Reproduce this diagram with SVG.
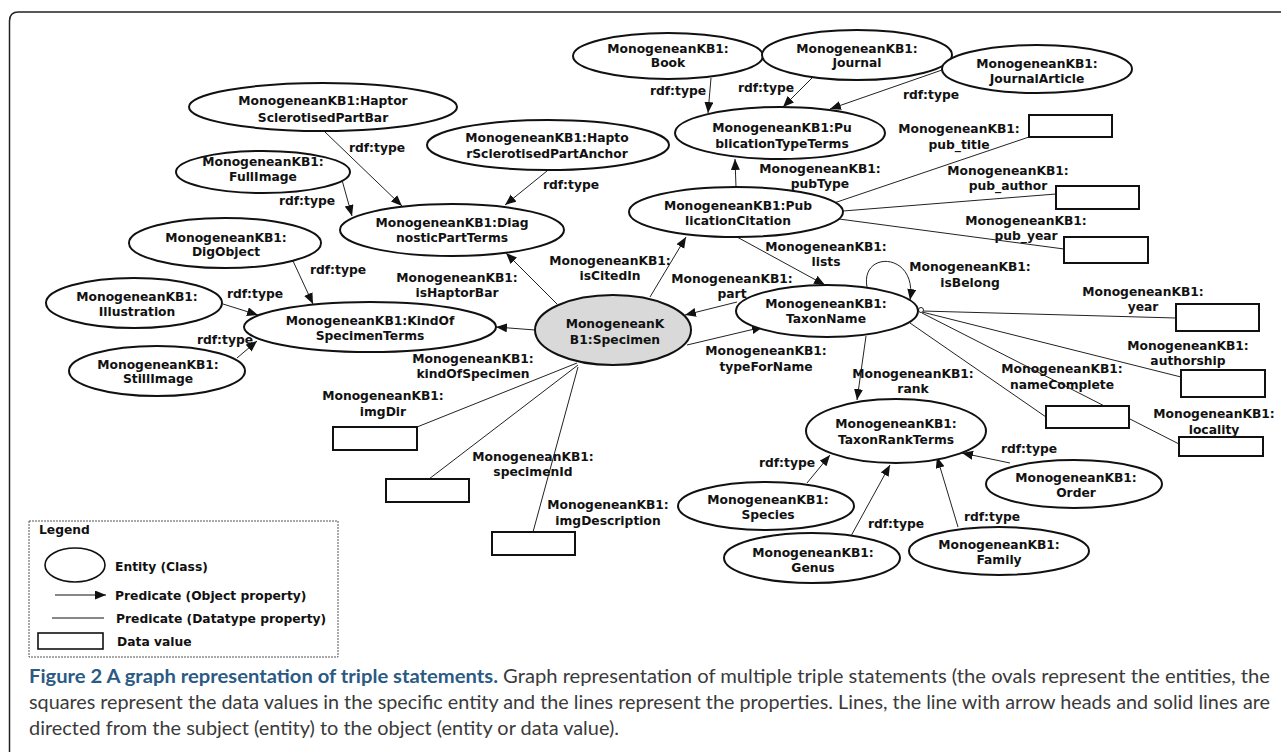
<svg xmlns="http://www.w3.org/2000/svg" width="1281" height="752" viewBox="0 0 1281 752">
<defs>
<marker id="ah" markerUnits="userSpaceOnUse" markerWidth="12" markerHeight="10" refX="11" refY="4.5" orient="auto">
<path d="M0,0 L11,4.5 L0,9 z" fill="#111"/>
</marker>
<style>
.ent ellipse{fill:#fff;stroke:#111;stroke-width:2}
.ent text,.lbl text,.lg text{font-family:"DejaVu Sans",Verdana,sans-serif;font-weight:bold;font-size:12.3px;fill:#111}
.ent text,.lbl text{text-anchor:middle}
.obj{stroke:#222;stroke-width:1;fill:none;marker-end:url(#ah)}
.dt{stroke:#222;stroke-width:1;fill:none}
.box{fill:#fff;stroke:#111;stroke-width:2}
.cap{font-family:Lato,"Open Sans",sans-serif;font-size:19.5px;fill:#3a3a3a}
</style>
</defs>
<rect width="1281" height="752" fill="#fff"/>
<path d="M9.5,752 L9.5,21 Q9.5,12 18.5,12 L1281,12" fill="none" stroke="#222" stroke-width="1.5"/>

<g id="connectors">
<line class="obj" x1="325" y1="132" x2="402" y2="206"/>
<line class="obj" x1="342" y1="180" x2="352" y2="216"/>
<line class="obj" x1="547" y1="171" x2="505" y2="205"/>
<line class="obj" x1="293" y1="261" x2="313" y2="304"/>
<line class="obj" x1="223" y1="304" x2="258" y2="315"/>
<line class="obj" x1="237" y1="358" x2="257" y2="341"/>
<line class="obj" x1="711" y1="78" x2="708" y2="113"/>
<line class="obj" x1="813" y1="77" x2="783" y2="107"/>
<line class="obj" x1="942" y1="70" x2="830" y2="109"/>
<line class="obj" x1="736" y1="187" x2="735" y2="159"/>
<line class="obj" x1="650" y1="297" x2="686" y2="237"/>
<line class="obj" x1="557" y1="304" x2="506" y2="253"/>
<line class="obj" x1="535" y1="330" x2="496" y2="327"/>
<line class="obj" x1="737" y1="302" x2="685" y2="315"/>
<line class="obj" x1="687" y1="345" x2="763" y2="327"/>
<line class="obj" x1="737" y1="237" x2="825" y2="285"/>
<path class="obj" d="M867,287 C860,250 918,252 910,300"/>
<line class="obj" x1="866" y1="336" x2="857" y2="400"/>
<line class="obj" x1="807" y1="483" x2="830" y2="455"/>
<line class="obj" x1="851" y1="536" x2="890" y2="465"/>
<line class="obj" x1="958" y1="527" x2="937" y2="457"/>
<line class="obj" x1="1010" y1="463" x2="962" y2="453"/>
<line class="dt" x1="834" y1="203" x2="1029" y2="137"/>
<line class="dt" x1="843" y1="211" x2="1056" y2="194"/>
<line class="dt" x1="839" y1="219" x2="1064" y2="249"/>
<line class="dt" x1="922" y1="311" x2="1176" y2="318"/>
<line class="dt" x1="922" y1="312" x2="1181" y2="377"/>
<line class="dt" x1="922" y1="313" x2="1179" y2="444"/>
<line class="dt" x1="910" y1="323" x2="1046" y2="417"/>
<line class="dt" x1="577" y1="363" x2="417" y2="427"/>
<line class="dt" x1="578" y1="365" x2="429" y2="479"/>
<line class="dt" x1="578" y1="367" x2="533" y2="532"/>
<circle cx="921" cy="310" r="2.5" fill="#fff" stroke="#222" stroke-width="1"/>
</g>

<g class="lbl" id="edge-labels">
<text x="377" y="151.5">rdf:type</text>
<text x="307" y="204.5">rdf:type</text>
<text x="571" y="188.5">rdf:type</text>
<text x="338" y="273.5">rdf:type</text>
<text x="255" y="297.5">rdf:type</text>
<text x="225" y="343.5">rdf:type</text>
<text x="678" y="94.5">rdf:type</text>
<text x="766" y="91.5">rdf:type</text>
<text x="931" y="98.5">rdf:type</text>
<text x="1029" y="452.5">rdf:type</text>
<text x="787" y="466.5">rdf:type</text>
<text x="896" y="527.5">rdf:type</text>
<text x="992" y="520.5">rdf:type</text>
<text x="820" y="172.5">MonogeneanKB1:<tspan x="820" y="187.5">pubType</tspan></text>
<text x="959" y="132.5">MonogeneanKB1:<tspan x="959" y="148.5">pub_title</tspan></text>
<text x="1008" y="174.5">MonogeneanKB1:<tspan x="1008" y="189.5">pub_author</tspan></text>
<text x="1026" y="224.5">MonogeneanKB1:<tspan x="1026" y="239.5">pub_year</tspan></text>
<text x="610" y="264.5">MonogeneanKB1:<tspan x="610" y="279.5">isCitedIn</tspan></text>
<text x="457" y="281.5">MonogeneanKB1:<tspan x="457" y="296.5">isHaptorBar</tspan></text>
<text x="826" y="250.5">MonogeneanKB1:<tspan x="826" y="265.5">lists</tspan></text>
<text x="732" y="282.5">MonogeneanKB1:<tspan x="732" y="297.5">part</tspan></text>
<text x="970" y="270.5">MonogeneanKB1:<tspan x="970" y="286.5">isBelong</tspan></text>
<text x="473" y="362.5">MonogeneanKB1:<tspan x="473" y="377.5">kindOfSpecimen</tspan></text>
<text x="766" y="354.5">MonogeneanKB1:<tspan x="766" y="370.5">typeForName</tspan></text>
<text x="383" y="399.5">MonogeneanKB1:<tspan x="383" y="415.5">imgDir</tspan></text>
<text x="533" y="460.5">MonogeneanKB1:<tspan x="533" y="475.5">specimenId</tspan></text>
<text x="608" y="508.5">MonogeneanKB1:<tspan x="608" y="524.5">imgDescription</tspan></text>
<text x="913" y="377.5">MonogeneanKB1:<tspan x="913" y="392.5">rank</tspan></text>
<text x="1143" y="295.5">MonogeneanKB1:<tspan x="1143" y="310.5">year</tspan></text>
<text x="1188" y="349.5">MonogeneanKB1:<tspan x="1188" y="364.5">authorship</tspan></text>
<text x="1062" y="372.5">MonogeneanKB1:<tspan x="1062" y="388.5">nameComplete</tspan></text>
<text x="1214" y="417.5">MonogeneanKB1:<tspan x="1214" y="433.5">locality</tspan></text>
</g>

<g class="ent" id="n-bar"><ellipse cx="323" cy="107" rx="134" ry="24"/><text x="323" y="104.5">MonogeneanKB1:Haptor<tspan x="323" y="121.5">SclerotisedPartBar</tspan></text></g>
<g class="ent" id="n-anchor"><ellipse cx="548" cy="145" rx="121" ry="25"/><text x="547" y="141.5">MonogeneanKB1:Hapto<tspan x="547" y="157.5">rSclerotisedPartAnchor</tspan></text></g>
<g class="ent" id="n-fullimage"><ellipse cx="263" cy="172" rx="87" ry="21"/><text x="263" y="165.5">MonogeneanKB1:<tspan x="263" y="180.5">FullImage</tspan></text></g>
<g class="ent" id="n-diag"><ellipse cx="452" cy="230" rx="112" ry="26"/><text x="452" y="226.5">MonogeneanKB1:Diag<tspan x="452" y="241.5">nosticPartTerms</tspan></text></g>
<g class="ent" id="n-digobject"><ellipse cx="225" cy="243" rx="96" ry="25"/><text x="226" y="241.5">MonogeneanKB1:<tspan x="226" y="255.5">DigObject</tspan></text></g>
<g class="ent" id="n-illustration"><ellipse cx="134" cy="303" rx="88" ry="25"/><text x="137" y="300.5">MonogeneanKB1:<tspan x="137" y="315.5">Illustration</tspan></text></g>
<g class="ent" id="n-stillimage"><ellipse cx="157" cy="371" rx="88" ry="25"/><text x="158" y="368.5">MonogeneanKB1:<tspan x="158" y="382.5">StillImage</tspan></text></g>
<g class="ent" id="n-kind"><ellipse cx="370" cy="327" rx="126" ry="25"/><text x="370" y="324.5">MonogeneanKB1:KindOf<tspan x="370" y="339.5">SpecimenTerms</tspan></text></g>
<g class="ent" id="n-book"><ellipse cx="668" cy="56" rx="95" ry="23"/><text x="668" y="52.5">MonogeneanKB1:<tspan x="668" y="66.5">Book</tspan></text></g>
<g class="ent" id="n-journal"><ellipse cx="857" cy="55" rx="95" ry="25"/><text x="857" y="52.5">MonogeneanKB1:<tspan x="857" y="66.5">Journal</tspan></text></g>
<g class="ent" id="n-journalarticle"><ellipse cx="1037" cy="69" rx="95" ry="24"/><text x="1037" y="67.5">MonogeneanKB1:<tspan x="1037" y="82.5">JournalArticle</tspan></text></g>
<g class="ent" id="n-pubtype"><ellipse cx="780" cy="133" rx="105" ry="26"/><text x="782" y="131.5">MonogeneanKB1:Pu<tspan x="782" y="147.5">blicationTypeTerms</tspan></text></g>
<g class="ent" id="n-pubcitation"><ellipse cx="736" cy="212" rx="107" ry="25"/><text x="738" y="209.5">MonogeneanKB1:Pub<tspan x="738" y="224.5">licationCitation</tspan></text></g>
<g class="ent" id="n-specimen"><ellipse cx="613" cy="330" rx="78" ry="35" style="fill:#d9d9d9"/><text x="615" y="327.5">MonogeneanK<tspan x="615" y="343.5">B1:Specimen</tspan></text></g>
<g class="ent" id="n-taxonname"><ellipse cx="827" cy="311" rx="91" ry="26"/><text x="826" y="307.5">MonogeneanKB1:<tspan x="826" y="322.5">TaxonName</tspan></text></g>
<g class="ent" id="n-taxonrank"><ellipse cx="896" cy="431" rx="90" ry="32"/><text x="896" y="427.5">MonogeneanKB1:<tspan x="896" y="443.5">TaxonRankTerms</tspan></text></g>
<g class="ent" id="n-order"><ellipse cx="1074" cy="484" rx="88" ry="24"/><text x="1076" y="481.5">MonogeneanKB1:<tspan x="1076" y="496.5">Order</tspan></text></g>
<g class="ent" id="n-species"><ellipse cx="766" cy="506" rx="88" ry="24"/><text x="768" y="503.5">MonogeneanKB1:<tspan x="768" y="518.5">Species</tspan></text></g>
<g class="ent" id="n-genus"><ellipse cx="812" cy="558" rx="88" ry="25"/><text x="813" y="556.5">MonogeneanKB1:<tspan x="813" y="571.5">Genus</tspan></text></g>
<g class="ent" id="n-family"><ellipse cx="999" cy="551" rx="90" ry="24"/><text x="999" y="548.5">MonogeneanKB1:<tspan x="999" y="563.5">Family</tspan></text></g>

<g id="data-values">
<rect id="v-pub_title" class="box" x="1029" y="115" width="83" height="22"/>
<rect id="v-pub_author" class="box" x="1056" y="186" width="83" height="23"/>
<rect id="v-pub_year" class="box" x="1064" y="237" width="84" height="26"/>
<rect id="v-year" class="box" x="1176" y="304" width="83" height="27"/>
<rect id="v-authorship" class="box" x="1181" y="370" width="84" height="27"/>
<rect id="v-nameComplete" class="box" x="1046" y="406" width="83" height="22"/>
<rect id="v-locality" class="box" x="1179" y="437" width="84" height="19"/>
<rect id="v-imgDir" class="box" x="333" y="427" width="84" height="23"/>
<rect id="v-specimenId" class="box" x="386" y="479" width="83" height="23"/>
<rect id="v-imgDescription" class="box" x="492" y="532" width="83" height="23"/>
</g>

<g class="lg" id="legend">
<rect x="29" y="521" width="309" height="136" fill="none" stroke="#555" stroke-width="1" stroke-dasharray="2,1"/>
<text x="39" y="533.5">Legend</text>
<ellipse cx="75" cy="565" rx="30" ry="17" fill="#fff" stroke="#111" stroke-width="1.6"/>
<text x="115" y="570.5">Entity (Class)</text>
<line x1="55" y1="595" x2="106" y2="595" stroke="#111" stroke-width="1" marker-end="url(#ah)"/>
<text x="115" y="599.5">Predicate (Object property)</text>
<line x1="52" y1="618" x2="104" y2="618" stroke="#111" stroke-width="1"/>
<text x="116" y="622.5">Predicate (Datatype property)</text>
<rect x="38" y="633" width="65" height="16" fill="#fff" stroke="#111" stroke-width="1.6"/>
<text x="117" y="645.5">Data value</text>
</g>

<g id="caption">
<text class="cap" x="29" y="683" textLength="1241" lengthAdjust="spacingAndGlyphs"><tspan font-weight="bold" fill="#2b5a84">Figure 2 A graph representation of triple statements.</tspan> Graph representation of multiple triple statements (the ovals represent the entities, the</text>
<text class="cap" x="29" y="709" textLength="1241" lengthAdjust="spacingAndGlyphs">squares represent the data values in the specific entity and the lines represent the properties. Lines, the line with arrow heads and solid lines are</text>
<text class="cap" x="29" y="735" textLength="590" lengthAdjust="spacingAndGlyphs">directed from the subject (entity) to the object (entity or data value).</text>
</g>
</svg>
